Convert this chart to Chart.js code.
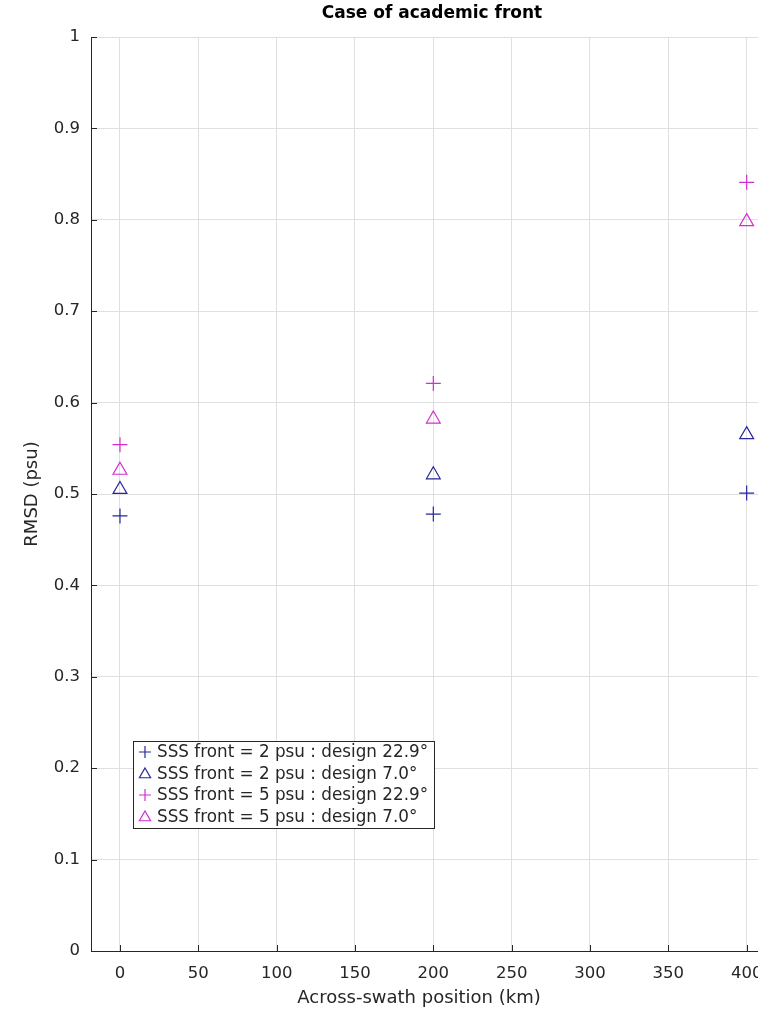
<!DOCTYPE html>
<html>
<head>
<meta charset="utf-8">
<script src="https://cdn.jsdelivr.net/npm/chart.js@4"></script>
<style>
  html, body { margin: 0; padding: 0; background: #fff; overflow: hidden; }
  #wrap { width: 790px; height: 1009px; }
</style>
</head>
<body>
<div id="wrap"><canvas id="myChart" width="790" height="1009"></canvas></div>
<script>
// posiciones across-swath (km)
const positions = [0, 200, 400];
// RMSD (psu) por serie
const front2design229 = [0.476, 0.478, 0.501];
const front2design70 = [0.505, 0.521, 0.565];
const front5design229 = [0.554, 0.621, 0.841];
const front5design70 = [0.526, 0.582, 0.798];
const seriesLabels = [
    'SSS front = 2 psu : design 22.9°',
    'SSS front = 2 psu : design 7.0°',
    'SSS front = 5 psu : design 22.9°',
    'SSS front = 5 psu : design 7.0°'
];
const xTicks = [0, 50, 100, 150, 200, 250, 300, 350, 400];
const yTicks = [0, 0.1, 0.2, 0.3, 0.4, 0.5, 0.6, 0.7, 0.8, 0.9, 1];
const chartTitle = 'Case of academic front';
const xTitle = 'Across-swath position (km)';

const navy = '#27279a';
const magenta = '#d22ed2';

const toPoints = (vals) => positions.map((p, i) => ({ x: p, y: vals[i] }));

const makeSet = (label, vals, color, style) => ({
    label: label,
    data: toPoints(vals),
    pointStyle: style,
    pointRadius: style === 'cross' ? 7.5 : 8,
    pointHoverRadius: style === 'cross' ? 7.5 : 8,
    borderColor: color,
    backgroundColor: 'rgba(0,0,0,0)',
    pointBorderWidth: 1.2,
    showLine: false
});

const scatterData = {
    datasets: [
        makeSet(seriesLabels[0], front2design229, navy, 'cross'),
        makeSet(seriesLabels[1], front2design70, navy, 'triangle'),
        makeSet(seriesLabels[2], front5design229, magenta, 'cross'),
        makeSet(seriesLabels[3], front5design70, magenta, 'triangle')
    ]
};

//ticks hacia adentro estilo matlab, titulos y leyenda dentro del grafico
const insideStuff = {
    id: 'insideStuff',
    afterDatasetsDraw(chart) {
        const ctx = chart.ctx;
        const a = chart.chartArea;
        const xs = chart.scales.x;
        const ys = chart.scales.y;
        ctx.save();
        ctx.strokeStyle = '#262626';
        ctx.lineWidth = 1;
        ctx.beginPath();
        xTicks.forEach(t => {
            const px = Math.round(xs.getPixelForValue(t)) + 0.5;
            ctx.moveTo(px, a.bottom);
            ctx.lineTo(px, a.bottom - 6);
        });
        yTicks.forEach(t => {
            const py = Math.round(ys.getPixelForValue(t)) + 0.5;
            ctx.moveTo(a.left, py);
            ctx.lineTo(a.left + 6, py);
        });
        ctx.stroke();

        // titulo y etiqueta eje x
        ctx.textAlign = 'center';
        ctx.textBaseline = 'middle';
        ctx.fillStyle = '#000';
        ctx.font = 'bold 17px "DejaVu Sans"';
        ctx.fillText(chartTitle, a.left + 341, 14);
        ctx.fillStyle = '#262626';
        ctx.font = '18px "DejaVu Sans"';
        ctx.fillText(xTitle, a.left + 328, 998);

        // leyenda
        const bx = a.left + 42, by = a.top + 704, bw = 301, bh = 87;
        ctx.fillStyle = '#fff';
        ctx.fillRect(bx, by, bw, bh);
        ctx.strokeStyle = '#262626';
        ctx.strokeRect(bx + 0.5, by + 0.5, bw, bh);
        ctx.font = '16.8px "DejaVu Sans"';
        ctx.textBaseline = 'middle';
        ctx.textAlign = 'left';
        chart.data.datasets.forEach((ds, i) => {
            const cy = by + 11 + i * 21.5;
            ctx.strokeStyle = ds.borderColor;
            ctx.fillStyle = 'rgba(0,0,0,0)';
            ctx.lineWidth = 1.2;
            Chart.helpers.drawPoint(ctx, {
                pointStyle: ds.pointStyle,
                radius: ds.pointStyle === 'cross' ? 6 : 6.5,
                borderWidth: 1.2
            }, bx + 12, cy + (ds.pointStyle === 'triangle' ? 1 : 0));
            ctx.fillStyle = '#262626';
            ctx.fillText(ds.label, bx + 24, cy + 1);
        });
        ctx.restore();
    }
};

const ctx = document.getElementById('myChart').getContext('2d');
window.myScatter = new Chart(ctx, {
    type: 'scatter',
    data: scatterData,
    plugins: [insideStuff],
    options: {
        responsive: false,
        animation: false,
        layout: { padding: { top: 37, left: 0, right: 12, bottom: 0 } },
        scales: {
            x: {
                type: 'linear',
                min: -18.5,
                max: 420,
                afterBuildTicks: (scale) => { scale.ticks = xTicks.map(v => ({ value: v })); },
                afterFit: (scale) => { scale.height = 58; },
                grid: { color: '#dfdfdf', drawTicks: false },
                border: { display: true, color: '#262626', width: 1 },
                ticks: { color: '#262626', font: { family: 'DejaVu Sans', size: 16.5 }, padding: 13, maxRotation: 0 }
            },
            y: {
                type: 'linear',
                min: 0,
                max: 1,
                afterBuildTicks: (scale) => { scale.ticks = yTicks.map(v => ({ value: v })); },
                afterFit: (scale) => { scale.width = 91; },
                grid: { color: '#dfdfdf', drawTicks: false },
                border: { display: true, color: '#262626', width: 1 },
                ticks: { color: '#262626', font: { family: 'DejaVu Sans', size: 16.5 }, padding: 11,
                    callback: (v) => (Math.round(v * 10) / 10).toString() },
                title: { display: true, text: 'RMSD (psu)', color: '#262626', font: { family: 'DejaVu Sans', size: 18 }, padding: { top: 22, bottom: 0 } }
            }
        },
        plugins: {
            legend: { display: false },
            tooltip: { enabled: false },
            title: { display: false }
        }
    }
});
</script>
</body>
</html>
